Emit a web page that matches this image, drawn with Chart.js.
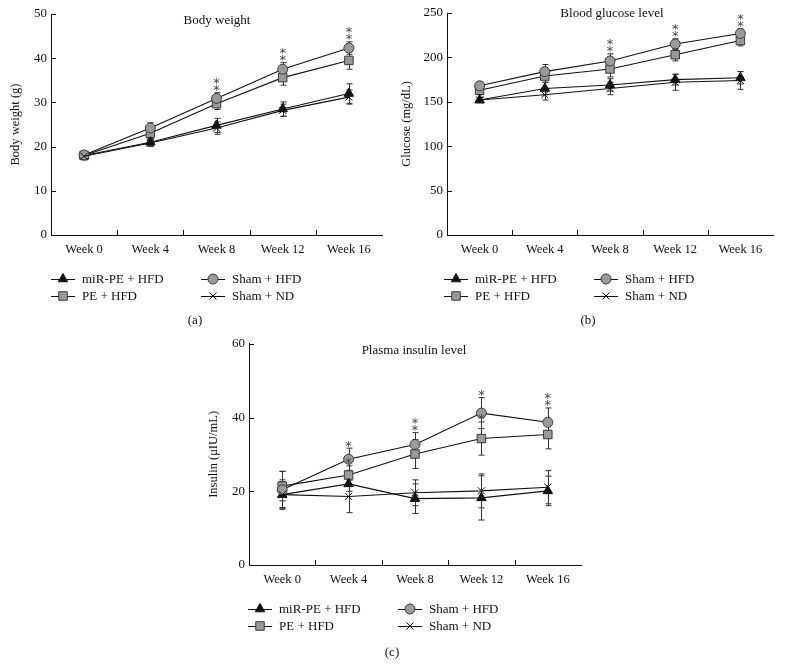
<!DOCTYPE html>
<html>
<head>
<meta charset="utf-8">
<script src="https://cdn.jsdelivr.net/npm/chart.js@4.4.0/dist/chart.umd.min.js"></script>
<style>
    body { margin: 0; background: #fff; width: 786px; height: 664px; position: relative; overflow: hidden; }
    .panel { position: absolute; width: 393px; height: 332px; }
</style>
</head>
<body>
<div class="panel" style="left:0;top:0"><canvas id="chartA" width="393" height="332"></canvas></div>
<div class="panel" style="left:393px;top:0"><canvas id="chartB" width="393" height="332"></canvas></div>
<div class="panel" style="left:197px;top:332px"><canvas id="chartC" width="393" height="332"></canvas></div>
<script>
    // categories + series names
    var weeks = ['Week 0', 'Week 4', 'Week 8', 'Week 12', 'Week 16'];
    var seriesNames = ['miR-PE + HFD', 'PE + HFD', 'Sham + HFD', 'Sham + ND'];

    // (a) body weight (g)
    var bwMirPe = [18.0, 21.0, 24.8, 28.5, 32.0];
    var bwPe = [18.0, 23.0, 29.7, 35.6, 39.5];
    var bwShamHfd = [18.1, 24.2, 30.9, 37.5, 42.3];
    var bwShamNd = [17.8, 20.8, 24.2, 28.2, 31.2];
    var bwMirPeErr = [0.6, 0.8, 1.6, 1.6, 2.2];
    var bwPeErr = [0.8, 1.2, 1.3, 1.7, 2.0];
    var bwShamHfdErr = [0.8, 1.2, 1.3, 1.5, 1.4];
    var bwShamNdErr = [0.8, 0.8, 1.4, 1.4, 1.6];
    var bwTicks = [0, 10, 20, 30, 40, 50];

    // (b) glucose (mg/dL)
    var glMirPe = [152, 165, 169, 175, 177];
    var glPe = [163, 179, 187, 203, 219];
    var glShamHfd = [168, 184, 196, 215, 227];
    var glShamNd = [152, 158, 165, 172, 174];
    var glMirPeErr = [3, 7, 7, 6, 7];
    var glPeErr = [5, 7, 9, 7, 6];
    var glShamHfdErr = [4, 8, 8, 6, 5];
    var glShamNdErr = [3, 6, 7, 9, 10];
    var glTicks = [0, 50, 100, 150, 200, 250];

    // (c) insulin (uIU/mL)
    var inMirPe = [19.1, 22.0, 18.0, 18.2, 20.1];
    var inPe = [21.4, 24.4, 30.1, 34.3, 35.4];
    var inShamHfd = [20.4, 28.7, 32.7, 41.2, 38.7];
    var inShamNd = [19.1, 18.6, 19.6, 20.1, 21.1];
    var inMirPeErr = [3.5, 2.0, 4.0, 6.0, 4.0];
    var inPeErr = [4.0, 2.5, 3.9, 4.5, 3.9];
    var inShamHfdErr = [5.0, 3.0, 3.2, 4.2, 3.9];
    var inShamNdErr = [4.0, 4.4, 3.5, 4.6, 4.5];
    var inTicks = [0, 20, 40, 60];

    // asterisks: [series index, week index, count]
    var bwStars = [[2, 2, 2], [2, 3, 2], [2, 4, 2]];
    var glStars = [[2, 2, 2], [2, 3, 2], [2, 4, 2]];
    var inStars = [[2, 1, 1], [1, 1, 1], [2, 2, 2], [2, 3, 1], [1, 3, 1], [2, 4, 2]];

    var serif = 'Liberation Serif';
    var ink = '#111';

    // styles per series (same order as seriesNames)
    var styles = [
        { pointStyle: 'triangle', radius: 5.5, bg: '#111', border: '#111' },
        { pointStyle: 'rect', radius: 6, bg: '#9a9a9a', border: '#3a3a3a' },
        { pointStyle: 'circle', radius: 5, bg: '#9a9a9a', border: '#3a3a3a' },
        { pointStyle: 'crossRot', radius: 5, bg: '#111', border: '#111' }
    ];

    // inward tick marks, error bars, stars, title, legend
    var figurePlugin = {
        id: 'figure',
        beforeDatasetsDraw: function (chart) {
            var ctx = chart.ctx;
            var ys = chart.scales.y;
            ctx.save();
            ctx.strokeStyle = '#333';
            ctx.lineWidth = 1;
            chart.data.datasets.forEach(function (ds, di) {
                var meta = chart.getDatasetMeta(di);
                ds.data.forEach(function (v, i) {
                    var x = Math.round(meta.data[i].x) + 0.5;
                    var top = ys.getPixelForValue(v + ds.err[i]);
                    var bot = ys.getPixelForValue(v - ds.err[i]);
                    ctx.beginPath();
                    ctx.moveTo(x, top); ctx.lineTo(x, bot);
                    ctx.moveTo(x - 3, top); ctx.lineTo(x + 3, top);
                    ctx.moveTo(x - 3, bot); ctx.lineTo(x + 3, bot);
                    ctx.stroke();
                });
            });
            ctx.restore();
        },
        afterDraw: function (chart) {
            var ctx = chart.ctx;
            var cfg = chart.options.plugins.figure;
            var area = chart.chartArea;
            var xs = chart.scales.x, ys = chart.scales.y;
            ctx.save();
            ctx.strokeStyle = ink;
            ctx.lineWidth = 1;
            // ticks pointing into the plot
            ctx.beginPath();
            ys.ticks.forEach(function (t, i) {
                var y = Math.round(ys.getPixelForTick(i)) + 0.5;
                ctx.moveTo(area.left, y); ctx.lineTo(area.left + 5, y);
            });
            for (var i = 0; i < weeks.length - 1; i++) {
                var x = Math.round((xs.getPixelForValue(i) + xs.getPixelForValue(i + 1)) / 2) + 0.5;
                ctx.moveTo(x, area.bottom); ctx.lineTo(x, area.bottom - 5);
            }
            ctx.stroke();

            // significance stars
            ctx.fillStyle = '#444';
            ctx.font = '13px "DejaVu Sans"';
            ctx.textAlign = 'center';
            ctx.textBaseline = 'middle';
            cfg.stars.forEach(function (s) {
                var ds = chart.data.datasets.find(function (d) { return d.key === s[0]; });
                var di = chart.data.datasets.indexOf(ds);
                var px = chart.getDatasetMeta(di).data[s[1]].x;
                var base = ys.getPixelForValue(ds.data[s[1]] + ds.err[s[1]]) - 2;
                for (var k = 0; k < s[2]; k++) {
                    ctx.fillText('*', px, base - k * 7);
                }
            });

            // title inside plot + panel label
            ctx.fillStyle = ink;
            ctx.font = '13px "' + serif + '"';
            ctx.fillText(cfg.title, cfg.titleX, cfg.titleY);
            ctx.fillText(cfg.label, 195, 321);

            // legend 2 x 2
            var order = [0, 2, 1, 3];
            order.forEach(function (key, n) {
                var col = n % 2, row = Math.floor(n / 2);
                var x0 = col ? 201 : 51;
                var y = area.bottom + 44 + row * 17;
                var st = styles[key];
                ctx.strokeStyle = ink;
                ctx.beginPath();
                ctx.moveTo(x0, y + 0.5); ctx.lineTo(x0 + 24, y + 0.5);
                ctx.stroke();
                ctx.fillStyle = st.bg;
                ctx.strokeStyle = st.border;
                Chart.helpers.drawPoint(ctx, { pointStyle: st.pointStyle, radius: st.radius, borderWidth: 1, rotation: 0 }, x0 + 12, y);
                ctx.fillStyle = ink;
                ctx.textAlign = 'left';
                ctx.fillText(seriesNames[key], x0 + 31, y + 1);
            });
            ctx.restore();
        }
    };

    function makePanel(id, values, errs, ticks, yTitle, box, fig) {
        // draw order: Sham + ND on top, PE + HFD at the back
        var drawOrder = [3, 2, 0, 1];
        var datasets = drawOrder.map(function (k) {
            var st = styles[k];
            return {
                key: k,
                label: seriesNames[k],
                data: values[k],
                err: errs[k],
                borderColor: ink,
                borderWidth: 1.1,
                pointStyle: st.pointStyle,
                pointRadius: st.radius,
                pointBackgroundColor: st.bg,
                pointBorderColor: st.border,
                pointBorderWidth: 1,
                tension: 0,
                fill: false
            };
        });
        var tickFont = { family: serif, size: 13 };
        return new Chart(document.getElementById(id), {
            type: 'line',
            data: { labels: weeks, datasets: datasets },
            options: {
                responsive: false,
                animation: false,
                events: [],
                devicePixelRatio: 1,
                layout: { padding: { left: 0, top: box.top, right: 393 - box.right, bottom: 332 - box.bottom - 30 } },
                plugins: {
                    legend: { display: false },
                    tooltip: { enabled: false },
                    figure: fig
                },
                scales: {
                    x: {
                        type: 'category',
                        offset: true,
                        grid: { display: false, drawTicks: false },
                        border: { display: true, color: ink, width: 1 },
                        ticks: { font: { family: serif, size: 12.5 }, color: ink, padding: 7, maxRotation: 0 },
                        afterFit: function (s) { s.height = 30; }
                    },
                    y: {
                        min: ticks[0],
                        max: ticks[ticks.length - 1],
                        afterBuildTicks: function (s) { s.ticks = ticks.map(function (v) { return { value: v }; }); },
                        grid: { display: false, drawTicks: false },
                        border: { display: true, color: ink, width: 1 },
                        ticks: { font: tickFont, color: ink, padding: 4 },
                        title: { display: true, text: yTitle, font: { family: serif, size: 12.5 }, color: ink, padding: { top: box.titlePad, bottom: 0 } },
                        afterFit: function (s) { s.width = box.left; }
                    }
                }
            },
            plugins: [figurePlugin]
        });
    }

    makePanel('chartA',
        [bwMirPe, bwPe, bwShamHfd, bwShamNd],
        [bwMirPeErr, bwPeErr, bwShamHfdErr, bwShamNdErr],
        bwTicks, 'Body weight (g)',
        { left: 51, right: 382, top: 14, bottom: 235, titlePad: 8 },
        { title: 'Body weight', titleX: 217, titleY: 21, label: '(a)', stars: bwStars });

    makePanel('chartB',
        [glMirPe, glPe, glShamHfd, glShamNd],
        [glMirPeErr, glPeErr, glShamHfdErr, glShamNdErr],
        glTicks, 'Glucose (mg/dL)',
        { left: 54, right: 380, top: 13, bottom: 235, titlePad: 6 },
        { title: 'Blood glucose level', titleX: 219, titleY: 14, label: '(b)', stars: glStars });

    makePanel('chartC',
        [inMirPe, inPe, inShamHfd, inShamNd],
        [inMirPeErr, inPeErr, inShamHfdErr, inShamNdErr],
        inTicks, 'Insulin (\u03bcIU/mL)',
        { left: 52, right: 384, top: 10, bottom: 233, titlePad: 9 },
        { title: 'Plasma insulin level', titleX: 217, titleY: 19, label: '(c)', stars: inStars });
</script>
</body>
</html>
